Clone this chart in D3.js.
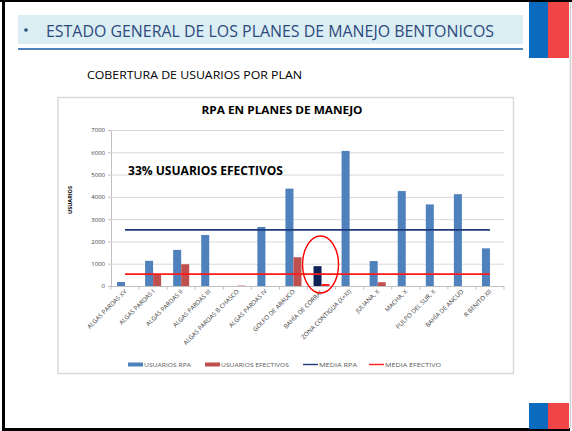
<!DOCTYPE html>
<html>
<head>
<meta charset="utf-8">
<script src="https://cdn.jsdelivr.net/npm/d3@7"></script>
<style>
  body { margin: 0; background: #fff; }
  svg { display: block; }
</style>
</head>
<body>
<svg width="572" height="431"></svg>
<script>
// data
const plans = [
  'ALGAS PARDAS XV', 'ALGAS PARDAS I', 'ALGAS PARDAS II', 'ALGAS PARDAS III',
  'ALGAS PARDAS B CHASCO', 'ALGAS PARDAS IV', 'GOLFO DE ARAUCO', 'BAHÍA DE CORRAL',
  'ZONA CONTIGUA (X+XI)', 'JULIANA, X', 'MACHA, X', 'PULPO DEL SUR, X',
  'BAHÍA DE ANCUD', 'R BENITO XII'
];
const usuariosRpa = [180, 1130, 1620, 2290, 0, 2650, 4370, 890, 6060, 1120, 4260, 3660, 4120, 1690];
const usuariosEfectivos = [0, 530, 975, 0, 40, 0, 1290, 90, 0, 170, 0, 0, 0, 0];
const yTicks = [0, 1000, 2000, 3000, 4000, 5000, 6000, 7000];
const mediaRpa = 2520;
const mediaEfectivo = 530;
const highlight = 'BAHÍA DE CORRAL';

const svg = d3.select('svg');
const width = +svg.attr('width');
const height = +svg.attr('height');

const font = "'Open Sans', 'Liberation Sans', sans-serif";

// --- slide frame ---
svg.append('line').attr('x1', 0).attr('x2', width).attr('y1', 1).attr('y2', 1)
  .attr('stroke', '#000').attr('stroke-width', 2);
svg.append('line').attr('x1', 3.5).attr('x2', 3.5).attr('y1', 0).attr('y2', height)
  .attr('stroke', '#000').attr('stroke-width', 3);
svg.append('line').attr('x1', 2).attr('x2', 570).attr('y1', 429.5).attr('y2', 429.5)
  .attr('stroke', '#000').attr('stroke-width', 3);
svg.append('line').attr('x1', 570.5).attr('x2', 570.5).attr('y1', 2).attr('y2', 428)
  .attr('stroke', '#d0d0d0').attr('stroke-width', 1.5);

// flags
const flag = (y, h) => {
  svg.append('rect').attr('x', 529).attr('y', y).attr('width', 19).attr('height', h).attr('fill', '#0A6BBE');
  svg.append('rect').attr('x', 548).attr('y', y).attr('width', 21).attr('height', h).attr('fill', '#F04546');
};
flag(2, 56);
flag(403, 26);

// header band
svg.append('rect').attr('x', 18).attr('y', 15).attr('width', 505).attr('height', 29).attr('fill', '#DAEEF3');
svg.append('rect').attr('x', 18).attr('y', 48).attr('width', 505).attr('height', 2).attr('fill', '#4F81BD');
svg.append('circle').attr('cx', 26).attr('cy', 30).attr('r', 1.8).attr('fill', '#2E4A7D');
svg.append('text')
  .text('ESTADO GENERAL DE LOS PLANES DE MANEJO BENTONICOS')
  .attr('x', 46).attr('y', 36.5)
  .attr('textLength', 448).attr('lengthAdjust', 'spacingAndGlyphs')
  .attr('font-family', font).attr('font-size', 17).attr('fill', '#2E4A7D');

svg.append('text')
  .text('COBERTURA DE USUARIOS POR PLAN')
  .attr('x', 87).attr('y', 79)
  .attr('textLength', 215).attr('lengthAdjust', 'spacingAndGlyphs')
  .attr('font-family', font).attr('font-size', 11).attr('fill', '#000');

// chart box
svg.append('rect').attr('x', 58).attr('y', 97.5).attr('width', 455.5).attr('height', 276)
  .attr('fill', '#fff').attr('stroke', '#d9d9d9').attr('stroke-width', 1.5);

// --- chart ---
const plot = {left: 111, right: 504, top: 130, bottom: 286};

const x = d3.scaleBand().domain(plans).range([plot.left, plot.right]);
const xSub = d3.scaleBand().domain(['rpa', 'ef']).range([0, x.bandwidth()]).paddingOuter(0.75);
const y = d3.scaleLinear().domain([0, 7000]).range([plot.bottom, plot.top]);

svg.append('text')
  .text('RPA EN PLANES DE MANEJO')
  .attr('x', 282).attr('y', 114).attr('text-anchor', 'middle')
  .attr('textLength', 161).attr('lengthAdjust', 'spacingAndGlyphs')
  .attr('font-family', font).attr('font-weight', 'bold').attr('font-size', 11).attr('fill', '#000');

// y axis with gridlines
const yAxis = svg.append('g')
  .attr('transform', `translate(${plot.left},0)`)
  .call(d3.axisLeft(y).tickValues(yTicks).tickFormat(d3.format('d')).tickSize(3).tickPadding(3));
yAxis.select('.domain').attr('stroke', '#bfbfbf');
yAxis.selectAll('.tick line').attr('stroke', '#bfbfbf');
yAxis.selectAll('.tick text').attr('font-family', font).attr('font-size', 6).attr('fill', '#404040');

svg.append('g').selectAll('line').data(yTicks.filter(d => d > 0)).enter().append('line')
  .attr('x1', plot.left).attr('x2', plot.right)
  .attr('y1', d => y(d) + 0.5).attr('y2', d => y(d) + 0.5)
  .attr('stroke', '#d9d9d9').attr('stroke-width', 1);

svg.append('text')
  .text('USUARIOS')
  .attr('transform', 'translate(72,200) rotate(-90)')
  .attr('text-anchor', 'middle')
  .attr('font-family', font).attr('font-weight', 'bold').attr('font-size', 5.5).attr('fill', '#000');

// x axis: line, ticks at band edges, rotated labels
svg.append('line').attr('x1', plot.left).attr('x2', plot.right)
  .attr('y1', plot.bottom + 0.5).attr('y2', plot.bottom + 0.5).attr('stroke', '#bfbfbf');
svg.append('g').selectAll('line').data(plans.concat(['end'])).enter().append('line')
  .attr('x1', (d, i) => plot.left + i * x.step()).attr('x2', (d, i) => plot.left + i * x.step())
  .attr('y1', plot.bottom).attr('y2', plot.bottom + 3.5).attr('stroke', '#bfbfbf');

svg.append('g').selectAll('text').data(plans).enter().append('text')
  .text(d => d)
  .attr('transform', d => `translate(${x(d) + x.bandwidth() / 2 + 2},${plot.bottom + 6}) rotate(-45)`)
  .attr('text-anchor', 'end')
  .attr('font-family', font).attr('font-size', 6.2).attr('fill', '#404040');

// bars
const rows = plans.map((p, i) => ({plan: p, rpa: usuariosRpa[i], ef: usuariosEfectivos[i]}));

svg.append('g').selectAll('rect').data(rows).enter().append('rect')
  .attr('x', d => x(d.plan) + xSub('rpa'))
  .attr('y', d => y(d.rpa))
  .attr('width', xSub.bandwidth())
  .attr('height', d => y(0) - y(d.rpa))
  .attr('fill', d => d.plan === highlight ? '#0F2257' : '#4F81BD');

svg.append('g').selectAll('rect').data(rows).enter().append('rect')
  .attr('x', d => x(d.plan) + xSub('ef'))
  .attr('y', d => y(d.ef))
  .attr('width', xSub.bandwidth())
  .attr('height', d => y(0) - y(d.ef))
  .attr('fill', d => d.plan === highlight ? '#FF2020' : (d.plan === 'ALGAS PARDAS B CHASCO' ? '#EBB5B3' : '#C0504D'));

// media lines across category centres
const xFirst = x(plans[0]) + x.bandwidth() / 2;
const xLast = x(plans[plans.length - 1]) + x.bandwidth() / 2;
svg.append('line').attr('x1', xFirst).attr('x2', xLast)
  .attr('y1', y(mediaRpa)).attr('y2', y(mediaRpa))
  .attr('stroke', '#1F3A7A').attr('stroke-width', 1.8);
svg.append('line').attr('x1', xFirst).attr('x2', xLast)
  .attr('y1', y(mediaEfectivo)).attr('y2', y(mediaEfectivo))
  .attr('stroke', '#FF1A1A').attr('stroke-width', 1.8);

// highlight ellipse round Bahía de Corral
const hx = x(highlight) + x.bandwidth() / 2;
svg.append('ellipse')
  .attr('cx', hx - 1).attr('cy', y(965))
  .attr('rx', 18).attr('ry', 28.5)
  .attr('fill', 'none').attr('stroke', '#FF0000').attr('stroke-width', 1.4);

svg.append('text')
  .text('33% USUARIOS EFECTIVOS')
  .attr('x', 128).attr('y', 175)
  .attr('textLength', 155).attr('lengthAdjust', 'spacingAndGlyphs')
  .attr('font-family', font).attr('font-weight', 'bold').attr('font-size', 12.5).attr('fill', '#000');

// legend
const legend = [
  {label: 'USUARIOS RPA', type: 'bar', color: '#4F81BD', x: 128, w: 47},
  {label: 'USUARIOS EFECTIVOS', type: 'bar', color: '#C0504D', x: 205, w: 68},
  {label: 'MEDIA RPA', type: 'line', color: '#1F3A7A', x: 303, w: 38},
  {label: 'MEDIA EFECTIVO', type: 'line', color: '#FF1A1A', x: 369, w: 56}
];
const ly = 364.5;
const lg = svg.append('g').selectAll('g').data(legend).enter().append('g')
  .attr('transform', d => `translate(${d.x},${ly})`);
lg.append('rect')
  .attr('x', 0).attr('y', d => d.type === 'bar' ? -2 : -0.7)
  .attr('width', 15).attr('height', d => d.type === 'bar' ? 4 : 1.4)
  .attr('fill', d => d.color);
lg.append('text')
  .text(d => d.label)
  .attr('x', 16).attr('y', 2.2)
  .attr('textLength', d => d.w).attr('lengthAdjust', 'spacingAndGlyphs')
  .attr('font-family', font).attr('font-size', 6).attr('fill', '#595959');
</script>
</body>
</html>
